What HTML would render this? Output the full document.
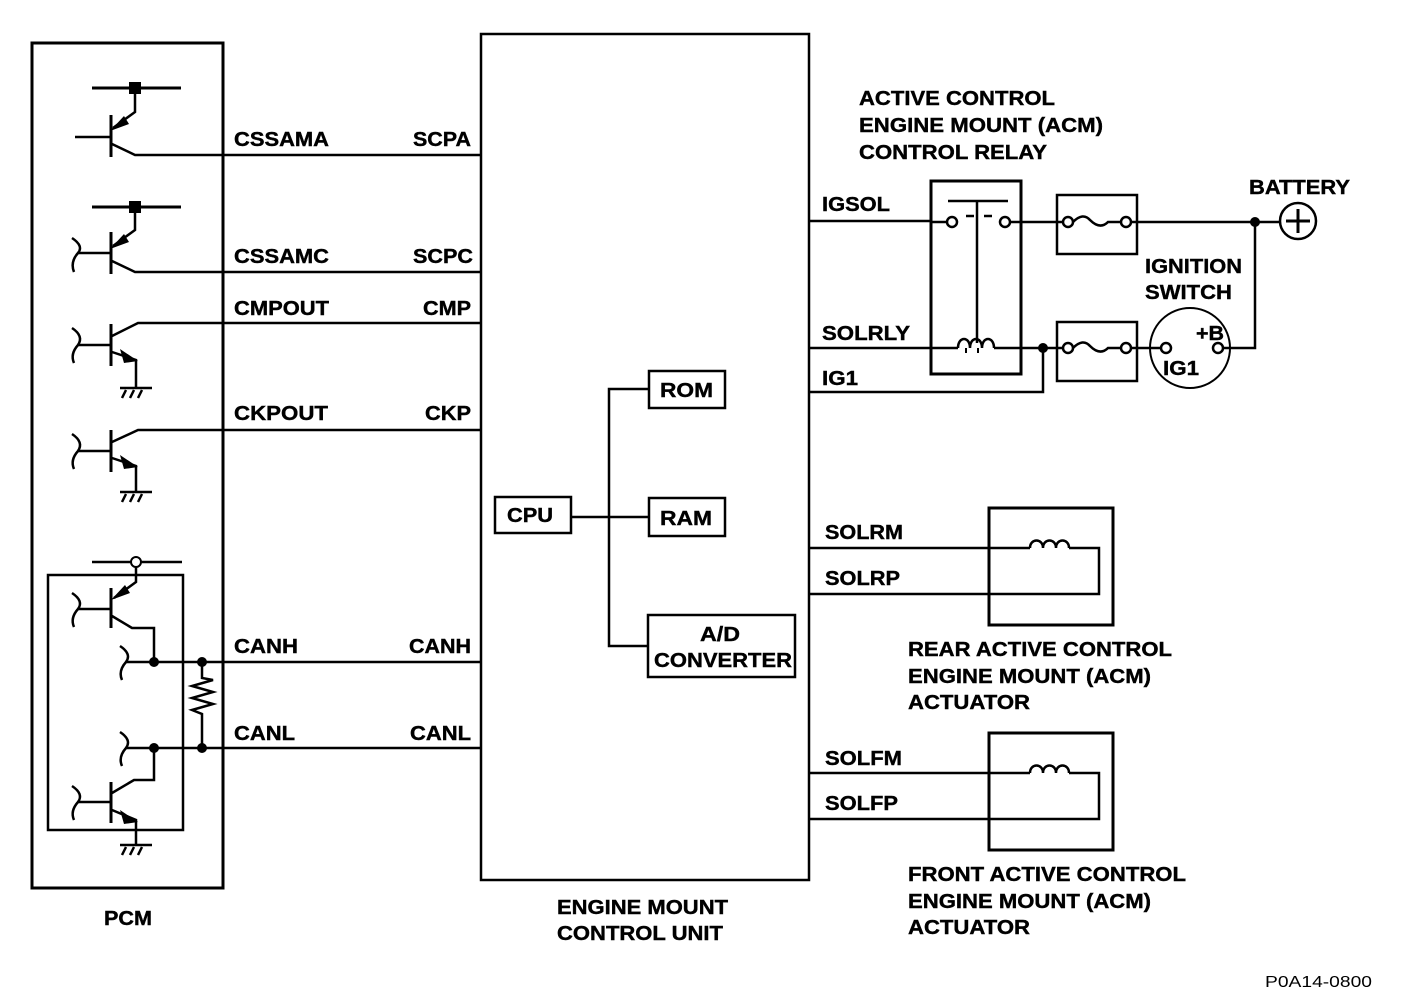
<!DOCTYPE html>
<html><head><meta charset="utf-8"><style>
html,body{margin:0;padding:0;background:#fff}
svg{display:block}
text{font-family:"Liberation Sans",Arial,sans-serif;font-weight:bold;font-size:20px;fill:#000;stroke:#000;stroke-width:0.4}
</style></head><body>
<svg width="1408" height="1004" viewBox="0 0 1408 1004" xmlns="http://www.w3.org/2000/svg">
<g fill="none" stroke="#000" stroke-width="2.5">
<rect x="32" y="43" width="191" height="845" stroke-width="3"/>
<rect x="481" y="34" width="328" height="846" stroke-width="2.5"/>

<line x1="92" y1="88" x2="181" y2="88" stroke-width="3"/>
<polyline points="135,88 135,112 113,128"/>
<line x1="111" y1="115" x2="111" y2="157" stroke-width="3"/>
<line x1="75" y1="137" x2="111" y2="137"/>
<polyline points="112,144 135,155 481,155"/>

<line x1="92" y1="207" x2="181" y2="207" stroke-width="3"/>
<polyline points="135,207 135,230 113,246"/>
<line x1="111" y1="232" x2="111" y2="274" stroke-width="3"/>
<line x1="78" y1="253" x2="111" y2="253"/>
<path d="M72,238 Q84,246 78,253 Q70,262 74,272"/>
<polyline points="112,261 135,272 481,272"/>

<line x1="111" y1="324" x2="111" y2="366" stroke-width="3"/>
<line x1="78" y1="345" x2="111" y2="345"/>
<path d="M72,328 Q84,336 78,345 Q70,354 74,363"/>
<polyline points="112,336 138,323 481,323"/>
<polyline points="112,352 136,360 136,388"/>
<line x1="120" y1="388" x2="152" y2="388"/>
<path d="M126,390 l-4,8 M134,390 l-4,8 M142,390 l-4,8"/>

<line x1="111" y1="430" x2="111" y2="472" stroke-width="3"/>
<line x1="78" y1="451" x2="111" y2="451"/>
<path d="M72,434 Q84,442 78,451 Q70,460 74,469"/>
<polyline points="112,442 138,430 481,430"/>
<polyline points="112,458 136,466 136,492"/>
<line x1="120" y1="492" x2="152" y2="492"/>
<path d="M126,494 l-4,8 M134,494 l-4,8 M142,494 l-4,8"/>

<rect x="48" y="575" width="135" height="255"/>
<line x1="92" y1="562" x2="182" y2="562"/>
<polyline points="136,567 136,582 114,598"/>
<line x1="111" y1="588" x2="111" y2="628" stroke-width="3"/>
<line x1="78" y1="609" x2="111" y2="609"/>
<path d="M72,593 Q84,601 78,609 Q70,618 74,627"/>
<polyline points="112,616 132,628 154,628 154,662"/>
<path d="M120,646 Q132,654 126,662 Q118,671 122,680"/>
<line x1="126" y1="662" x2="481" y2="662"/>
<polyline points="202,662 202,678 213,680 192,686 213,692 192,698 213,704 192,710 202,714 202,748"/>
<path d="M120,732 Q132,740 126,748 Q118,757 122,766"/>
<line x1="126" y1="748" x2="481" y2="748"/>
<line x1="111" y1="782" x2="111" y2="823" stroke-width="3"/>
<line x1="78" y1="802" x2="111" y2="802"/>
<path d="M72,786 Q84,794 78,802 Q70,811 74,820"/>
<polyline points="112,793 134,780 154,780 154,748"/>
<polyline points="112,810 136,820 136,845"/>
<line x1="120" y1="845" x2="152" y2="845"/>
<path d="M126,847 l-4,8 M134,847 l-4,8 M142,847 l-4,8"/>

<rect x="495" y="497" width="76" height="36"/>
<rect x="649" y="371" width="76" height="37"/>
<rect x="649" y="498" width="76" height="38"/>
<rect x="648" y="615" width="147" height="62"/>
<line x1="571" y1="517" x2="649" y2="517"/>
<polyline points="649,389 609,389 609,646 648,646"/>

<rect x="931" y="181" width="90" height="193" stroke-width="3"/>
<line x1="809" y1="221" x2="930" y2="221"/>
<line x1="930" y1="222" x2="947" y2="222"/>
<circle cx="952" cy="222" r="5"/>
<circle cx="1005" cy="222" r="5"/>
<line x1="948" y1="201" x2="1008" y2="201"/>
<line x1="977" y1="201" x2="977" y2="343"/>
<path d="M966,216 h8 M984,216 h8"/>
<line x1="1010" y1="222" x2="1063" y2="222"/>
<rect x="1057" y="195" width="80" height="59"/>
<circle cx="1068" cy="222" r="5"/>
<circle cx="1126" cy="222" r="5"/>
<path d="M1073,222 Q1083,212 1090,220 Q1100,230 1108,222 L1121,222"/>
<line x1="1131" y1="222" x2="1280" y2="222"/>
<circle cx="1298" cy="221" r="18"/>
<path d="M1298,209 v24 M1286,221 h24" stroke-width="3"/>
<polyline points="1255,222 1255,348 1223,348"/>
<line x1="809" y1="348" x2="958" y2="348"/>
<path d="M958,348 c0,-12 12,-12 12,0 c0,-12 12,-12 12,0 c0,-12 12,-12 12,0"/>
<path d="M966,348 v5 M978,348 v5" stroke-width="2"/>
<line x1="994" y1="348" x2="1063" y2="348"/>
<polyline points="809,392 1043,392 1043,348"/>
<rect x="1057" y="322" width="80" height="59"/>
<circle cx="1068" cy="348" r="5"/>
<circle cx="1126" cy="348" r="5"/>
<path d="M1073,348 Q1083,338 1090,346 Q1100,356 1108,348 L1121,348"/>
<line x1="1131" y1="348" x2="1161" y2="348"/>
<circle cx="1190" cy="348" r="40" stroke-width="2"/>
<circle cx="1166" cy="348" r="5"/>
<circle cx="1218" cy="348" r="5"/>

<rect x="989" y="508" width="124" height="117" stroke-width="3"/>
<line x1="809" y1="548" x2="1030" y2="548"/>
<path d="M1030,548 c0,-10 13,-10 13,0 c0,-10 13,-10 13,0 c0,-10 13,-10 13,0"/>
<polyline points="1069,548 1099,548 1099,594 809,594"/>
<rect x="989" y="733" width="124" height="117" stroke-width="3"/>
<line x1="809" y1="773" x2="1030" y2="773"/>
<path d="M1030,773 c0,-10 13,-10 13,0 c0,-10 13,-10 13,0 c0,-10 13,-10 13,0"/>
<polyline points="1069,773 1099,773 1099,819 809,819"/>
</g>
<g fill="#000">
<rect x="129" y="82" width="12" height="12"/>
<rect x="129" y="201" width="12" height="12"/>
<polygon points="110,131 124,116 129,124"/>
<polygon points="110,249 124,234 129,242"/>
<polygon points="111,600 125,585 130,593"/>
<polygon points="138,361 120,349 124,363"/>
<polygon points="138,467 120,455 124,469"/>
<polygon points="138,822 120,810 124,824"/>
<circle cx="154" cy="662" r="5"/><circle cx="202" cy="662" r="5"/>
<circle cx="154" cy="748" r="5"/><circle cx="202" cy="748" r="5"/>
<circle cx="1043" cy="348" r="5"/>
<circle cx="1255" cy="222" r="5"/>
</g>
<circle cx="136" cy="562" r="5" fill="#fff" stroke="#000" stroke-width="2"/>

<g>
<text x="234" y="146" textLength="95" lengthAdjust="spacingAndGlyphs">CSSAMA</text>
<text x="413" y="146" textLength="58" lengthAdjust="spacingAndGlyphs">SCPA</text>
<text x="234" y="263" textLength="95" lengthAdjust="spacingAndGlyphs">CSSAMC</text>
<text x="413" y="263" textLength="60" lengthAdjust="spacingAndGlyphs">SCPC</text>
<text x="234" y="315" textLength="95" lengthAdjust="spacingAndGlyphs">CMPOUT</text>
<text x="423" y="315" textLength="48" lengthAdjust="spacingAndGlyphs">CMP</text>
<text x="234" y="420" textLength="94" lengthAdjust="spacingAndGlyphs">CKPOUT</text>
<text x="425" y="420" textLength="46" lengthAdjust="spacingAndGlyphs">CKP</text>
<text x="234" y="653" textLength="64" lengthAdjust="spacingAndGlyphs">CANH</text>
<text x="409" y="653" textLength="62" lengthAdjust="spacingAndGlyphs">CANH</text>
<text x="234" y="740" textLength="61" lengthAdjust="spacingAndGlyphs">CANL</text>
<text x="410" y="740" textLength="61" lengthAdjust="spacingAndGlyphs">CANL</text>
<text x="104" y="925" textLength="48" lengthAdjust="spacingAndGlyphs">PCM</text>
<text x="557" y="914" textLength="171" lengthAdjust="spacingAndGlyphs">ENGINE MOUNT</text>
<text x="557" y="940" textLength="166" lengthAdjust="spacingAndGlyphs">CONTROL UNIT</text>
<text x="507" y="522" textLength="46" lengthAdjust="spacingAndGlyphs">CPU</text>
<text x="660" y="397" textLength="53" lengthAdjust="spacingAndGlyphs">ROM</text>
<text x="660" y="525" textLength="52" lengthAdjust="spacingAndGlyphs">RAM</text>
<text x="700" y="641" textLength="40" lengthAdjust="spacingAndGlyphs">A/D</text>
<text x="654" y="667" textLength="138" lengthAdjust="spacingAndGlyphs">CONVERTER</text>
<text x="859" y="105" textLength="196" lengthAdjust="spacingAndGlyphs">ACTIVE CONTROL</text>
<text x="859" y="132" textLength="244" lengthAdjust="spacingAndGlyphs">ENGINE MOUNT (ACM)</text>
<text x="859" y="159" textLength="188" lengthAdjust="spacingAndGlyphs">CONTROL RELAY</text>
<text x="822" y="211" textLength="68" lengthAdjust="spacingAndGlyphs">IGSOL</text>
<text x="822" y="340" textLength="88" lengthAdjust="spacingAndGlyphs">SOLRLY</text>
<text x="822" y="385" textLength="36" lengthAdjust="spacingAndGlyphs">IG1</text>
<text x="1249" y="194" textLength="101" lengthAdjust="spacingAndGlyphs">BATTERY</text>
<text x="1145" y="273" textLength="97" lengthAdjust="spacingAndGlyphs">IGNITION</text>
<text x="1145" y="299" textLength="87" lengthAdjust="spacingAndGlyphs">SWITCH</text>
<text x="1196" y="340" textLength="28" lengthAdjust="spacingAndGlyphs">+B</text>
<text x="1163" y="375" textLength="36" lengthAdjust="spacingAndGlyphs">IG1</text>
<text x="825" y="539" textLength="78" lengthAdjust="spacingAndGlyphs">SOLRM</text>
<text x="825" y="585" textLength="75" lengthAdjust="spacingAndGlyphs">SOLRP</text>
<text x="825" y="765" textLength="77" lengthAdjust="spacingAndGlyphs">SOLFM</text>
<text x="825" y="810" textLength="73" lengthAdjust="spacingAndGlyphs">SOLFP</text>
<text x="908" y="656" textLength="264" lengthAdjust="spacingAndGlyphs">REAR ACTIVE CONTROL</text>
<text x="908" y="683" textLength="243" lengthAdjust="spacingAndGlyphs">ENGINE MOUNT (ACM)</text>
<text x="908" y="709" textLength="122" lengthAdjust="spacingAndGlyphs">ACTUATOR</text>
<text x="908" y="881" textLength="278" lengthAdjust="spacingAndGlyphs">FRONT ACTIVE CONTROL</text>
<text x="908" y="908" textLength="243" lengthAdjust="spacingAndGlyphs">ENGINE MOUNT (ACM)</text>
<text x="908" y="934" textLength="122" lengthAdjust="spacingAndGlyphs">ACTUATOR</text>
<text x="1265" y="987" style="font-weight:normal;font-size:16px;stroke-width:0" textLength="107" lengthAdjust="spacingAndGlyphs">P0A14-0800</text>
</g>
</svg>
</body></html>
